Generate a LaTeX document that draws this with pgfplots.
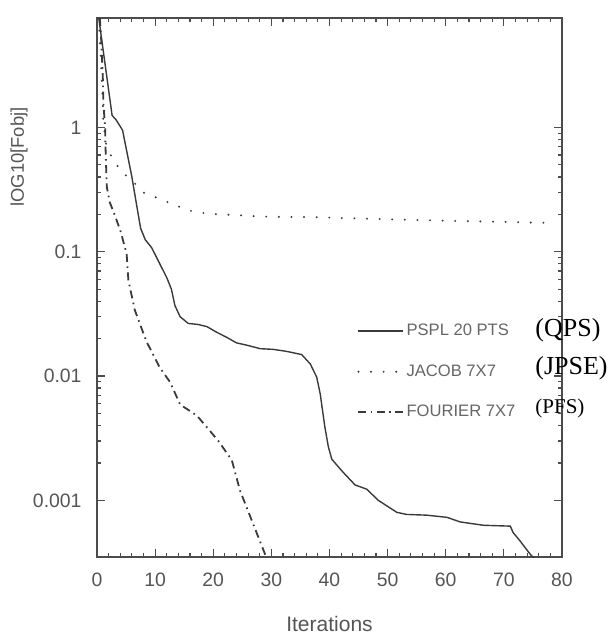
\documentclass[border=0pt]{standalone}
\usepackage{fontspec}
\setmainfont{Liberation Sans}
\newfontfamily\serifann{Liberation Serif}
\usepackage{pgfplots}
\pgfplotsset{compat=1.18}
\definecolor{ink}{HTML}{3A3A3A}
\definecolor{txt}{HTML}{555555}
\begin{document}
\begin{tikzpicture}
\begin{axis}[
  scale only axis, width=232.5pt, height=269.5pt,
  xmin=0, xmax=80, ymode=log, ymin=3.5e-4, ymax=7.6,
  xtick={0,10,...,80}, minor x tick num=4,
  ytick={0.001,0.01,0.1,1}, yticklabels={0.001,0.01,0.1,1},
  tick align=inside, major tick length=4pt, minor tick length=2pt,
  axis line style={draw=black!70, line width=0.8pt},
  every tick/.style={black!70, line width=0.6pt},
  /pgf/number format/assume math mode=true,
  tick label style={font=\fontsize{9.7}{11}\selectfont, text=txt},
  xticklabel style={yshift=-4.2pt},
  yticklabel style={xshift=-4.2pt},
  xlabel={Iterations},
  xlabel style={at={(axis description cs:0.5,-0.139)}, anchor=base, font=\fontsize{10.5}{12}\selectfont, text=txt},
  ylabel={lOG10[Fobj]},
  ylabel style={at={(axis description cs:-0.1677,0.742)}, anchor=center, font=\fontsize{9.2}{10}\selectfont, text=txt},
  legend style={at={(axis description cs:0.559,0.437)}, anchor=north west, draw=none, fill=none,
    font=\fontsize{8.3}{10}\selectfont, text=black!60, row sep=11pt, inner sep=0pt, nodes={inner sep=1pt}},
  legend cell align=left,
  legend image code/.code={\draw[#1] (0pt,0pt) -- (22.5pt,0pt);},
]
\addplot[ink, line width=0.7pt] coordinates {
(0.3,7.6) (2.6,1.25) (3.3,1.15) (4.4,0.95) (5.1,0.65) (6.0,0.40) (6.8,0.24) (7.5,0.155)
(8.3,0.125) (9.4,0.108) (10.8,0.080) (12.0,0.062) (12.8,0.050) (13.4,0.037) (14.3,0.030)
(15.7,0.0265) (17.4,0.026) (18.9,0.025) (20.6,0.0225) (22.3,0.0205) (24.0,0.0185)
(25.8,0.0177) (28.1,0.0166) (30.3,0.0164) (32.6,0.0158) (35.2,0.0149) (36.7,0.0125)
(37.8,0.0098) (38.4,0.0072) (39.2,0.0039) (39.8,0.0027) (40.4,0.00214) (42.4,0.00167)
(44.4,0.00133) (46.4,0.00123) (48.4,0.00100) (49.9,0.00090) (51.6,0.00080) (53.3,0.00077)
(56.7,0.00076) (60.2,0.00073) (62.5,0.00067) (66.5,0.00063) (71.1,0.00062) (71.6,0.00055)
(72.8,0.00047) (74.5,0.00037) (75.5,0.00033)
};
\addlegendentry{PSPL 20 PTS}
\addplot[ink, line width=1.1pt, line cap=round, dash pattern=on 0pt off 6.3pt] coordinates {
(0.3,7.6) (0.6,4.0) (0.9,2.0) (1.1,1.1) (1.6,0.72) (2.8,0.54) (4.5,0.43) (6.5,0.355)
(8.0,0.30) (10.3,0.272) (12.6,0.246) (14.6,0.226) (16.6,0.210) (19.0,0.203) (21.2,0.200)
(25.0,0.196) (28.1,0.192) (32.0,0.191) (37.2,0.190) (42.0,0.187) (47.6,0.184) (55.0,0.180)
(62.0,0.177) (70.0,0.174) (77.5,0.171)
};
\addlegendentry{JACOB 7X7}
\addplot[ink, line width=0.9pt, dash pattern=on 4pt off 2.2pt on 0.8pt off 2.2pt] coordinates {
(0.5,7.6) (0.7,5.3) (1.0,2.55) (1.1,1.55) (1.4,1.0) (1.45,0.74) (1.55,0.51) (1.7,0.33)
(2.2,0.25) (3.1,0.195) (4.1,0.144) (5.1,0.096) (5.4,0.059) (6.5,0.034) (8.5,0.019)
(10.8,0.0117) (12.6,0.0089) (14.3,0.0059) (17.2,0.0048) (20.9,0.0030) (23.2,0.0021)
(24.6,0.0012) (26.9,0.00064) (28.9,0.00037) (29.4,0.00032)
};
\addlegendentry{FOURIER 7X7}
\coordinate (bl) at (rel axis cs:0,0);
\coordinate (tr) at (rel axis cs:1,1);
\coordinate (a1) at (rel axis cs:0.942,0.421);
\coordinate (a2) at (rel axis cs:0.942,0.351);
\coordinate (a3) at (rel axis cs:0.942,0.276);
\end{axis}
\node[anchor=west, inner sep=0pt, font=\serifann\fontsize{13}{14}\selectfont] at (a1) {(QPS)};
\node[anchor=west, inner sep=0pt, font=\serifann\fontsize{13}{14}\selectfont] at (a2) {(JPSE)};
\node[anchor=west, inner sep=0pt, font=\serifann\fontsize{10.5}{12}\selectfont] at (a3) {(PFS)};
\path ([shift={(-48.5pt,-42.5pt)}]bl) rectangle ([shift={(24pt,9pt)}]tr);
\end{tikzpicture}
\end{document}
